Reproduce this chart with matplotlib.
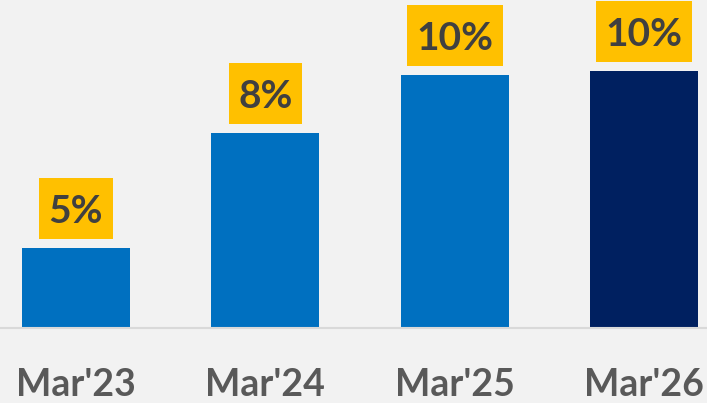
import matplotlib.pyplot as plt
from matplotlib.patches import Rectangle
from matplotlib.transforms import IdentityTransform

categories = ["Mar'23", "Mar'24", "Mar'25", "Mar'26"]
values = [5.4, 8.2, 9.6, 9.7]
labels = ["5%", "8%", "10%", "10%"]
colors = ["#0070c0", "#0070c0", "#0070c0", "#002060"]

plt.rcParams["font.family"] = ["Lato", "DejaVu Sans"]

fig = plt.figure(figsize=(7.07, 4.03), dpi=100, facecolor="#f2f2f2")
ax = fig.add_axes([0, 0.186, 1, 0.814])
ax.set_facecolor("#f2f2f2")

x = range(len(categories))
ax.bar(x, values, width=0.57, color=colors, bottom=0)

texts = []
for xi, v, lab in zip(x, values, labels):
    t = ax.annotate(lab, (xi, v), xytext=(0, 26), textcoords="offset points",
                    ha="center", va="center", fontsize=28, fontweight="bold",
                    color="#404040", zorder=5)
    texts.append(t)

ax.set_xlim(-0.401, 3.333)
ax.set_ylim(3.46, 11.42)
ax.set_xticks(list(x))
ax.set_xticklabels(categories, fontsize=27, fontweight="bold", color="#595959")
ax.tick_params(axis="x", length=0, pad=29)
ax.set_yticks([])

for s in ["top", "left", "right"]:
    ax.spines[s].set_visible(False)
ax.spines["bottom"].set_color("#d9d9d9")
ax.spines["bottom"].set_linewidth(1.5)

# yellow label boxes: fixed height, width follows the text
fig.canvas.draw()
renderer = fig.canvas.get_renderer()
for t in texts:
    bb = t.get_window_extent(renderer)
    cx, cy = (bb.x0 + bb.x1) / 2, (bb.y0 + bb.y1) / 2 + 3
    w, h = bb.width + 19, 61
    ax.add_patch(Rectangle((cx - w / 2, cy - h / 2), w, h, transform=IdentityTransform(),
                           fc="#ffc000", ec="none", zorder=4, clip_on=False))

fig.savefig("out.png", dpi=100, facecolor=fig.get_facecolor())
